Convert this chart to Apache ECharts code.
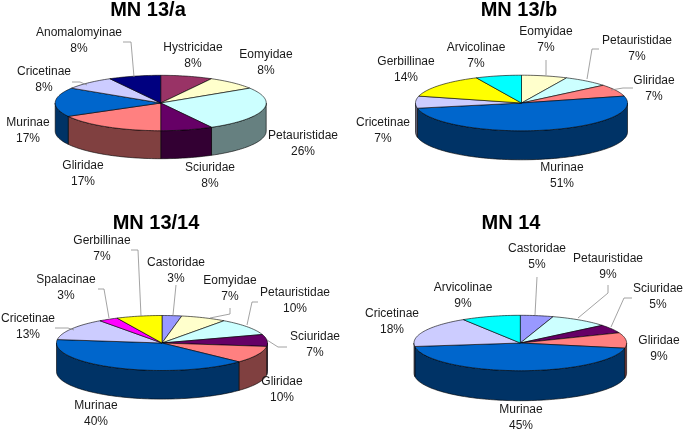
<!DOCTYPE html>
<html>
<head>
<meta charset="utf-8">
<style>
  html, body { margin: 0; padding: 0; background: #fff; }
  #main { width: 685px; height: 432px; }
</style>
<script src="https://cdn.jsdelivr.net/npm/echarts@6/dist/echarts.min.js"></script>
</head>
<body>
<div id="main"></div>
<script>
// values, clockwise from 12 o'clock
const titles = ['MN 13/a', 'MN 13/b', 'MN 13/14', 'MN 14']

const namesA = ['Hystricidae', 'Eomyidae', 'Petauristidae', 'Sciuridae', 'Gliridae', 'Murinae', 'Cricetinae', 'Anomalomyinae']
const valuesA = [8, 8, 26, 8, 17, 17, 8, 8]

const namesB = ['Eomyidae', 'Petauristidae', 'Gliridae', 'Murinae', 'Cricetinae', 'Gerbillinae', 'Arvicolinae']
const valuesB = [7, 7, 7, 51, 7, 14, 7]

const namesC = ['Castoridae', 'Eomyidae', 'Petauristidae', 'Sciuridae', 'Gliridae', 'Murinae', 'Cricetinae', 'Spalacinae', 'Gerbillinae']
const valuesC = [3, 7, 10, 7, 10, 40, 13, 3, 7]

const namesD = ['Castoridae', 'Petauristidae', 'Sciuridae', 'Gliridae', 'Murinae', 'Cricetinae', 'Arvicolinae']
const valuesD = [5, 9, 5, 9, 45, 18, 9]

// top colour / wall colour per family
const colors = {
  Hystricidae: ['#993366', '#4d1a33'],
  Eomyidae: ['#ffffcc', '#808066'],
  Petauristidae: ['#ccffff', '#668080'],
  Sciuridae: ['#660066', '#330033'],
  Gliridae: ['#ff8080', '#804040'],
  Murinae: ['#0066cc', '#003366'],
  Cricetinae: ['#ccccff', '#666680'],
  Anomalomyinae: ['#000080', '#000040'],
  Gerbillinae: ['#ffff00', '#808000'],
  Arvicolinae: ['#00ffff', '#008080'],
  Castoridae: ['#9999ff', '#4d4d80'],
  Spalacinae: ['#ff00ff', '#800080']
}

// layout of the four pies
const pies = [
  { names: namesA, values: valuesA, cx: 160.7, cy: 103, rx: 105.5, ry: 27.7, depth: 28, titleX: 148, titleY: 0 },
  { names: namesB, values: valuesB, cx: 521.5, cy: 103, rx: 106, ry: 27.8, depth: 29, titleX: 519, titleY: 0 },
  { names: namesC, values: valuesC, cx: 162, cy: 343, rx: 105.5, ry: 27.5, depth: 28.6, titleX: 156, titleY: 213 },
  { names: namesD, values: valuesD, cx: 520.3, cy: 343, rx: 106.3, ry: 27.7, depth: 30, titleX: 511, titleY: 213 }
]

// label centres, same order as the names
const labelPos = [
  [[193, 56], [266, 63], [303, 144], [210, 176], [83, 174], [28, 131], [44, 80], [79, 41]],
  [[546, 40], [637, 49], [654, 89], [562, 176], [383, 131], [406, 70], [476, 56]],
  [[176, 271], [230, 289], [295, 301], [315, 345], [282, 390], [96, 414], [28, 327], [66, 288], [102, 249]],
  [[537, 257], [608, 267], [658, 297], [659, 349], [521, 418], [392, 322], [463, 296]]
]

// leader lines
const leaders = [
  [[123, 42], [131, 42], [134, 77]],
  [[72, 82], [80, 82], [87, 85]],
  [[546, 60], [546, 75]],
  [[599, 49], [592, 49], [587, 79]],
  [[633, 88], [623, 88], [611, 90]],
  [[176, 285], [173, 315]],
  [[230, 308], [230, 314], [210, 318]],
  [[258, 302], [252, 302], [247, 325]],
  [[287, 347], [278, 347], [267, 340]],
  [[55, 328], [68, 328], [74, 330]],
  [[98, 289], [104, 289], [109, 318]],
  [[131, 250], [138, 250], [141, 316]],
  [[537, 277], [535, 315]],
  [[608, 285], [608, 293], [578, 318]],
  [[632, 298], [624, 298], [611, 327]]
]

const FONT = '"Liberation Sans", Arial, sans-serif'
const TWO_PI = Math.PI * 2

function rim(pie, a, drop) {
  return [pie.cx + pie.rx * Math.sin(a), pie.cy - pie.ry * Math.cos(a) + drop]
}

function arcPoints(pie, a0, a1, drop) {
  let pts = []
  let n = Math.max(2, Math.ceil((a1 - a0) / 0.03))
  for (let i = 0; i <= n; i++) {
    pts.push(rim(pie, a0 + (a1 - a0) * i / n, drop))
  }
  return pts
}

function makeSeries(pie, pieIndex) {
  const total = pie.values.reduce((s, v) => s + v, 0)
  return {
    type: 'custom',
    coordinateSystem: 'none',
    silent: true,
    animation: false,
    data: pie.values.map((v, i) => ({ name: pie.names[i], value: [v] })),
    renderItem(params, api) {
      const i = params.dataIndex
      const before = pie.values.slice(0, i).reduce((s, v) => s + v, 0)
      const a0 = echarts.number.linearMap(before, [0, total], [0, TWO_PI])
      const a1 = echarts.number.linearMap(before + api.value(0), [0, total], [0, TWO_PI])
      const col = colors[pie.names[i]]
      const children = []

      // only the front half of the rim has a visible wall
      const w0 = Math.max(a0, Math.PI / 2)
      const w1 = Math.min(a1, Math.PI * 1.5)
      if (w1 > w0) {
        const pts = arcPoints(pie, w0, w1, 0).concat(arcPoints(pie, w0, w1, pie.depth).reverse())
        children.push({
          type: 'polygon',
          shape: { points: pts },
          style: { fill: col[1], stroke: '#000', lineWidth: 0.6 },
          z2: 1
        })
      }

      const top = [[pie.cx, pie.cy]].concat(arcPoints(pie, a0, a1, 0))
      children.push({
        type: 'polygon',
        shape: { points: top },
        style: { fill: col[0], stroke: '#000', lineWidth: 0.6 },
        z2: 2
      })

      const pos = labelPos[pieIndex][i]
      children.push({
        type: 'text',
        x: pos[0],
        y: pos[1],
        style: {
          text: pie.names[i] + '\n' + api.value(0) + '%',
          font: '12px ' + FONT,
          lineHeight: 16,
          fill: '#1a1a1a',
          align: 'center',
          verticalAlign: 'middle'
        },
        z2: 5
      })
      return { type: 'group', children }
    }
  }
}

const chart = echarts.init(document.getElementById('main'))
chart.setOption({
  backgroundColor: '#fff',
  animation: false,
  title: pies.map((p, i) => ({
    text: titles[i],
    left: p.titleX,
    top: p.titleY,
    textAlign: 'center',
    padding: 0,
    textStyle: { fontFamily: FONT, fontSize: 20, fontWeight: 'bold', color: '#000' }
  })),
  series: pies.map(makeSeries),
  graphic: leaders.map(pts => ({
    type: 'polyline',
    silent: true,
    shape: { points: pts },
    style: { stroke: '#8c8c8c', lineWidth: 0.8, fill: null },
    z: 10
  }))
})
</script>
</body>
</html>
